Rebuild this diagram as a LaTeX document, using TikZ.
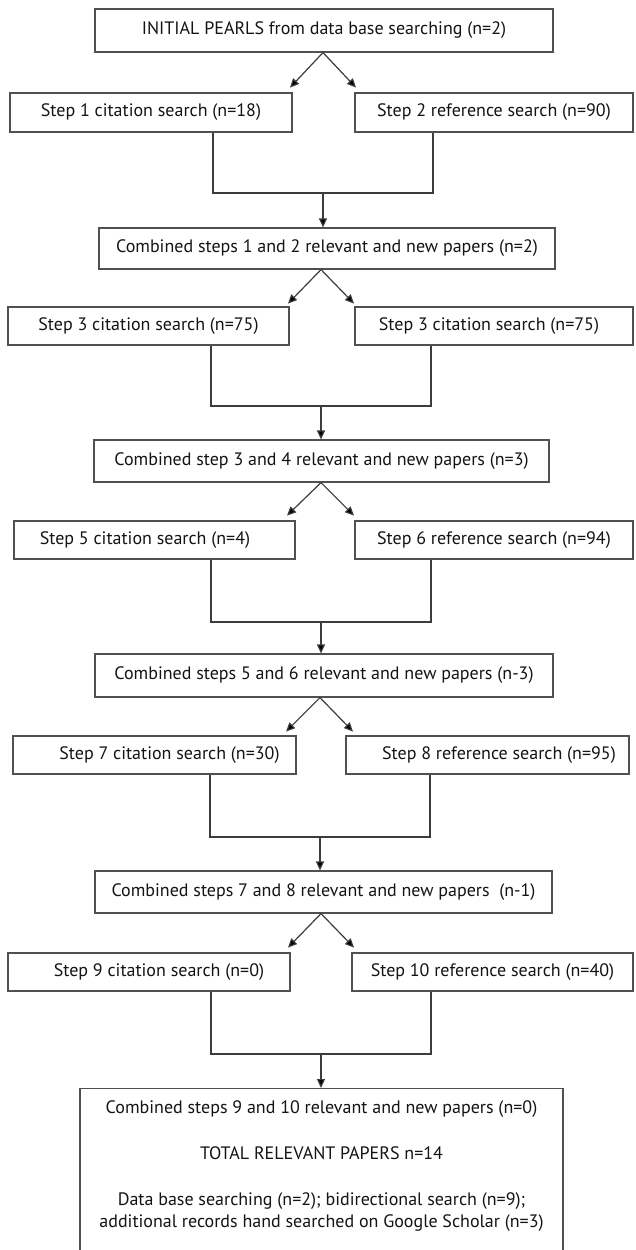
\documentclass[tikz,border=0pt]{standalone}
\usepackage{fontspec}
\setmainfont{PT Sans}
\usetikzlibrary{arrows.meta,calc}
\definecolor{linec}{RGB}{60,60,60}
\definecolor{boxc}{RGB}{80,80,80}
\definecolor{txtc}{RGB}{20,20,20}
\begin{document}
\begin{tikzpicture}[x=1pt,y=-1pt,
  box/.style={draw=boxc, line width=1.2pt, inner sep=0pt, text=txtc,
    font=\fontsize{18}{22.5}\selectfont},
  conn/.style={draw=linec, line width=1.2pt},
  arr/.style={draw=linec, line width=1.2pt, -{Triangle[length=9pt,width=8pt,fill=black]}},
  txt/.style={inner sep=0pt, text=txtc, align=center, font=\fontsize{18}{22.5}\selectfont}]
\useasboundingbox (0,0) rectangle (635,1250);
\fill[white] (0,0) rectangle (635,1250);

% boxes
\node[box, minimum width=458pt, minimum height=43pt] (top) at (324,30.5) {INITIAL PEARLS from data base searching (n=2)};
\node[box, minimum width=282pt, minimum height=39pt] (r1L) at (151,112.5) {Step 1 citation search (n=18)};
\node[box, minimum width=278pt, minimum height=39pt] (r1R) at (494,112.5) {Step 2 reference search (n=90)};
\node[box, minimum width=456pt, minimum height=41pt] (c1) at (327,248.5) {Combined steps 1 and 2 relevant and new papers (n=2)};
\node[box, minimum width=281pt, minimum height=38pt] (r2L) at (148.5,326) {Step 3 citation search (n=75)};
\node[box, minimum width=278pt, minimum height=38pt] (r2R) at (494,326) {Step 3 citation search (n=75)\hspace*{10pt}};
\node[box, minimum width=455pt, minimum height=42pt] (c2) at (321.5,461) {Combined step 3 and 4 relevant and new papers (n=3)};
\node[box, minimum width=281pt, minimum height=38pt] (r3L) at (154.5,540) {Step 5 citation search (n=4)\hspace*{19pt}};
\node[box, minimum width=278pt, minimum height=38pt] (r3R) at (494,540) {Step 6 reference search (n=94)};
\node[box, minimum width=458pt, minimum height=43pt] (c3) at (324,675.5) {Combined steps 5 and 6 relevant and new papers (n-3)};
\node[box, minimum width=283pt, minimum height=38pt] (r4L) at (154.5,755) {\hspace*{30pt}Step 7 citation search (n=30)};
\node[box, minimum width=283pt, minimum height=38pt] (r4R) at (487.5,755) {\hspace*{23pt}Step 8 reference search (n=95)};
\node[box, minimum width=457pt, minimum height=42pt] (c4) at (323.5,892) {Combined steps 7 and 8 relevant and new papers~ (n-1)};
\node[box, minimum width=282pt, minimum height=38pt] (r5L) at (149,972) {\hspace*{20pt}Step 9 citation search (n=0)};
\node[box, minimum width=281pt, minimum height=38pt] (r5R) at (492.5,972) {Step 10 reference search (n=40)};
\node[box, minimum width=483pt, minimum height=180pt, anchor=north] (final) at (321.5,1088) {};
\node[txt] (finaltxt) at (321.5,1166) {Combined steps 9 and 10 relevant and new papers (n=0)\\[23.5pt]
TOTAL RELEVANT PAPERS n=14\\[23.5pt]
Data base searching (n=2); bidirectional search (n=9);\\
additional records hand searched on Google Scholar (n=3)};

% joins
\coordinate (j1) at (323,193);
\coordinate (j2) at (321,406);
\coordinate (j3) at (321,622);
\coordinate (j4) at (320,837);
\coordinate (j5) at (321,1054);
\coordinate (x1L) at (213,0); \coordinate (x1R) at (433,0);
\coordinate (x2L) at (211,0); \coordinate (x2R) at (431,0);
\coordinate (x3L) at (211,0); \coordinate (x3R) at (431,0);
\coordinate (x4L) at (210,0); \coordinate (x4R) at (430,0);
\coordinate (x5L) at (211,0); \coordinate (x5R) at (431,0);

% splits
\draw[arr] (top.south -| j1) -- +(-33,35);
\draw[arr] (top.south -| j1) -- +(33,35);
\draw[arr] (c1.south -| j2) -- +(-33,34);
\draw[arr] (c1.south -| j2) -- +(33,34);
\draw[arr] (c2.south -| j3) -- +(-34,33);
\draw[arr] (c2.south -| j3) -- +(33,33);
\draw[arr] (c3.south -| j4) -- +(-34,34);
\draw[arr] (c3.south -| j4) -- +(33,34);
\draw[arr] (c4.south -| j5) -- +(-33,34);
\draw[arr] (c4.south -| j5) -- +(33,34);

% merges
\draw[conn] (r1L.south -| x1L) |- (j1) -| (r1R.south -| x1R);
\draw[arr] (j1) -- (c1.north -| j1);
\draw[conn] (r2L.south -| x2L) |- (j2) -| (r2R.south -| x2R);
\draw[arr] (j2) -- (c2.north -| j2);
\draw[conn] (r3L.south -| x3L) |- (j3) -| (r3R.south -| x3R);
\draw[arr] (j3) -- (c3.north -| j3);
\draw[conn] (r4L.south -| x4L) |- (j4) -| (r4R.south -| x4R);
\draw[arr] (j4) -- (c4.north -| j4);
\draw[conn] (r5L.south -| x5L) |- (j5) -| (r5R.south -| x5R);
\draw[arr] (j5) -- (final.north -| j5);
\end{tikzpicture}
\end{document}
